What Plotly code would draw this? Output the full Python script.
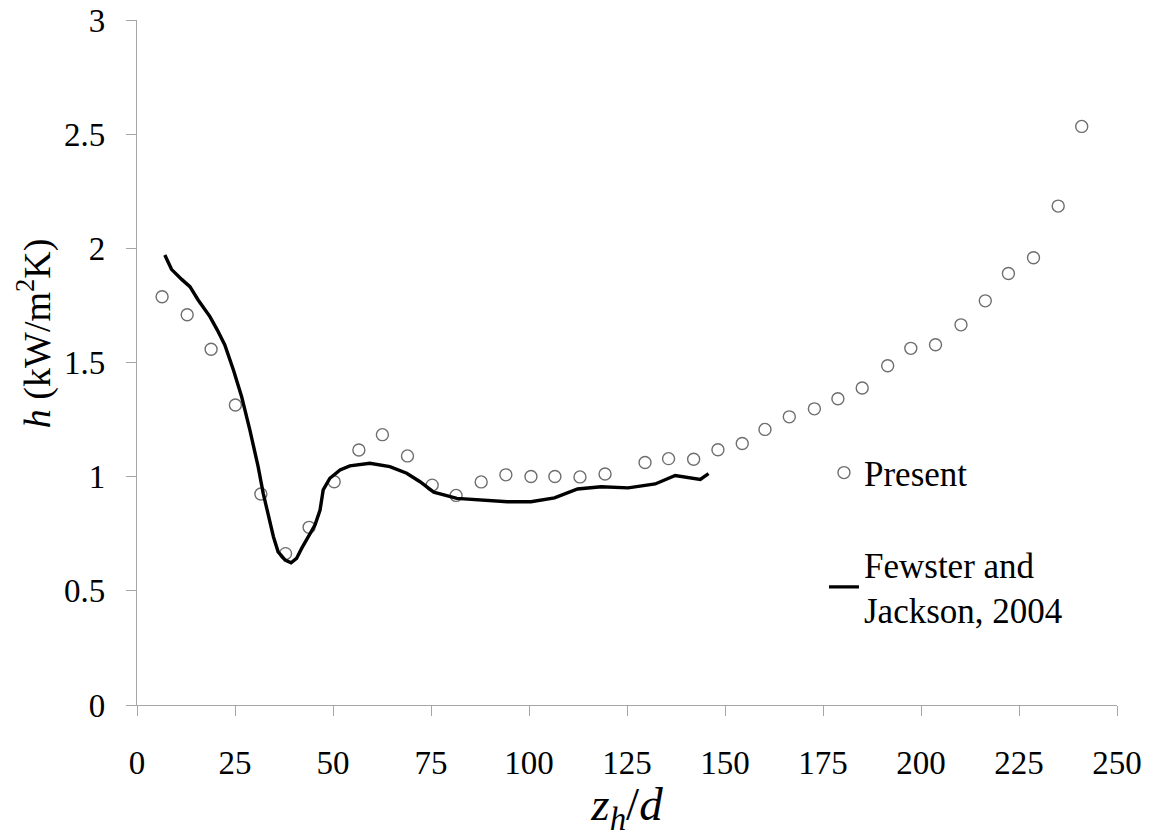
import plotly.graph_objects as go

# Present results: heat transfer coefficient along the heated length
present_z = [6.4, 12.8, 18.9, 25.1, 31.6, 37.9, 43.9, 50.3, 56.6, 62.6, 69.0,
             75.3, 81.4, 87.8, 94.1, 100.5, 106.6, 113.0, 119.4, 129.6, 135.6,
             142.0, 148.2, 154.4, 160.2, 166.4, 172.8, 178.8, 185.0, 191.5,
             197.4, 203.7, 210.2, 216.4, 222.3, 228.7, 235.0, 241.0]
present_h = [1.788, 1.709, 1.558, 1.314, 0.924, 0.663, 0.778, 0.978, 1.117,
             1.184, 1.091, 0.963, 0.918, 0.977, 1.008, 1.001, 1.001, 0.999,
             1.012, 1.062, 1.079, 1.076, 1.118, 1.145, 1.207, 1.262, 1.297,
             1.341, 1.388, 1.486, 1.562, 1.578, 1.665, 1.770, 1.890, 1.959,
             2.185, 2.534]

# Fewster and Jackson (2004) measurements
fj_z = [7.1, 8.8, 11.4, 13.5, 15.6, 18.6, 20.5, 22.4, 24.6, 26.7, 28.8, 30.9,
        32.2, 33.5, 34.8, 36.0, 37.8, 39.3, 40.7, 42.0, 43.7, 45.4, 46.7,
        47.5, 49.2, 51.8, 54.3, 59.4, 64.5, 68.8, 72.2, 75.7, 81.6, 88.5,
        94.5, 100.5, 106.5, 112.4, 118.4, 125.3, 132.2, 137.3, 143.7, 145.8]
fj_h = [1.971, 1.908, 1.864, 1.832, 1.774, 1.701, 1.642, 1.577, 1.467, 1.350,
        1.204, 1.044, 0.927, 0.825, 0.737, 0.671, 0.635, 0.623, 0.642, 0.686,
        0.737, 0.788, 0.854, 0.942, 0.993, 1.029, 1.047, 1.059, 1.044, 1.015,
        0.978, 0.932, 0.905, 0.898, 0.890, 0.890, 0.907, 0.946, 0.956, 0.951,
        0.968, 1.005, 0.988, 1.013]

x_ticks = [0, 25, 50, 75, 100, 125, 150, 175, 200, 225, 250]
y_ticks = [0, 0.5, 1, 1.5, 2, 2.5, 3]
y_tick_text = ["0", "0.5", "1", "1.5", "2", "2.5", "3"]

SERIF = "Liberation Serif"
AXIS_GREY = "#a6a6a6"

fig = go.Figure()
fig.add_trace(go.Scatter(
    x=present_z, y=present_h, mode="markers", name="Present",
    legendgroup="a",
    marker=dict(symbol="circle", size=12, color="white",
                line=dict(color="#6e6e6e", width=1.4)),
))
fig.add_trace(go.Scatter(
    x=fj_z, y=fj_h, mode="lines", name="Fewster and<br>Jackson, 2004",
    legendgroup="b",
    line=dict(color="black", width=3.4),
))

# vertical axis title, placed slightly above the plot centre
fig.add_annotation(
    text="<i>h</i> (kW/m<sup>2</sup>K)", textangle=-90,
    xref="paper", yref="paper", x=-0.105, y=0.543,
    xanchor="center", yanchor="middle", showarrow=False,
    font=dict(family=SERIF, size=38, color="black"),
)

fig.update_layout(
    width=1158, height=837,
    margin=dict(l=137, r=41, t=20, b=132, autoexpand=False),
    paper_bgcolor="white", plot_bgcolor="white",
    font=dict(family=SERIF, color="black", size=32),
    showlegend=True,
    legend=dict(
        x=0.701, y=0.382, xanchor="left", yanchor="top",
        bgcolor="rgba(0,0,0,0)", borderwidth=0,
        font=dict(family=SERIF, size=35, color="black"),
        traceorder="grouped", tracegroupgap=43,
    ),
    xaxis=dict(
        range=[0, 250], tickvals=x_ticks,
        showgrid=False, zeroline=False, automargin=False,
        showline=True, linecolor=AXIS_GREY, linewidth=1.3,
        ticks="outside", ticklen=10, tickcolor=AXIS_GREY, tickwidth=1.3,
        ticklabelstandoff=18,
        tickfont=dict(family=SERIF, size=33),
        title=dict(text="<i>z<sub>h</sub></i>/<i>d</i>",
                   font=dict(family=SERIF, size=47), standoff=2),
    ),
    yaxis=dict(
        range=[0, 3], tickvals=y_ticks, ticktext=y_tick_text,
        showgrid=False, zeroline=False, automargin=False,
        showline=True, linecolor=AXIS_GREY, linewidth=1.3,
        ticks="outside", ticklen=10, tickcolor=AXIS_GREY, tickwidth=1.3,
        ticklabelstandoff=14,
        tickfont=dict(family=SERIF, size=33),
    ),
)

fig.write_html("out.html")
